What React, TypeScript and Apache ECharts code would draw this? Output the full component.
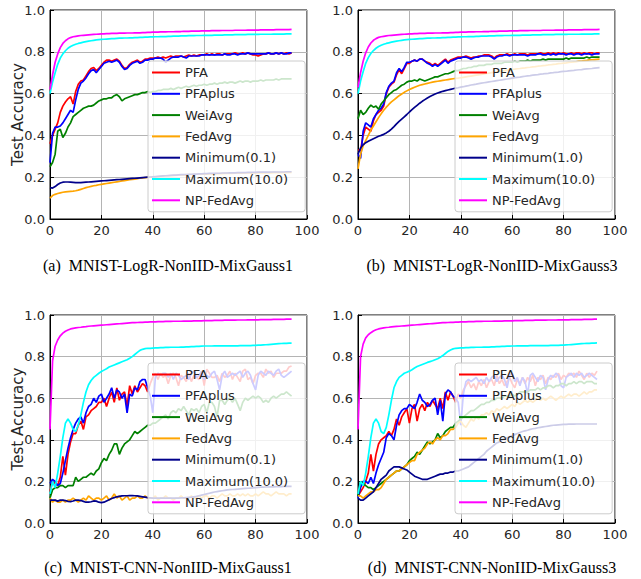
import React, { useEffect, useRef } from "react";
import * as echarts from "echarts";

// ---------- Panel (a): MNIST-LogR-NonIID-MixGauss1 ----------
const A_PFA = [0.36,0.40,0.43,0.46,0.51,0.54,0.56,0.575,0.585,0.55,
0.61,0.645,0.66,0.665,0.685,0.705,0.72,0.725,0.71,0.72,
0.735,0.75,0.76,0.76,0.755,0.76,0.765,0.755,0.735,0.72,
0.725,0.74,0.75,0.755,0.76,0.75,0.755,0.765,0.765,0.77,
0.77,0.77,0.775,0.77,0.775,0.77,0.775,0.78,0.775,0.78,
0.78,0.78,0.775,0.78,0.785,0.78,0.785,0.78,0.785,0.785,
0.785,0.79,0.785,0.79,0.785,0.79,0.79,0.785,0.79,0.79,
0.79,0.79,0.795,0.79,0.79,0.795,0.79,0.795,0.79,0.785,
0.785,0.78,0.785,0.79,0.79,0.795,0.79,0.79,0.795,0.79,
0.795,0.79,0.795,0.79,0.795];
const A_PFAPLUS = [0.27,0.41,0.44,0.44,0.445,0.46,0.48,0.50,0.52,0.51,
0.57,0.62,0.65,0.66,0.675,0.695,0.71,0.715,0.70,0.715,
0.73,0.745,0.75,0.755,0.75,0.755,0.76,0.75,0.73,0.715,
0.72,0.735,0.745,0.75,0.755,0.745,0.75,0.76,0.76,0.765,
0.765,0.77,0.77,0.77,0.765,0.75,0.76,0.77,0.775,0.775,
0.775,0.78,0.775,0.77,0.78,0.78,0.78,0.78,0.78,0.785,
0.785,0.785,0.785,0.785,0.785,0.785,0.785,0.785,0.79,0.785,
0.785,0.79,0.79,0.785,0.79,0.79,0.79,0.795,0.79,0.79,
0.79,0.79,0.79,0.79,0.79,0.795,0.79,0.79,0.795,0.79,
0.795,0.79,0.79,0.795,0.795];
const A_WEIAVG = [0.25,0.27,0.31,0.42,0.43,0.39,0.41,0.44,0.46,0.49,
0.50,0.51,0.52,0.53,0.535,0.54,0.54,0.545,0.555,0.565,
0.57,0.575,0.575,0.58,0.58,0.59,0.595,0.585,0.565,0.575,
0.58,0.585,0.59,0.595,0.595,0.60,0.605,0.605,0.61,0.605,
0.61,0.61,0.615,0.615,0.62,0.62,0.62,0.625,0.62,0.625,
0.63,0.625,0.63,0.635,0.63,0.635,0.64,0.635,0.64,0.64,
0.645,0.64,0.645,0.645,0.65,0.645,0.65,0.65,0.655,0.65,
0.655,0.655,0.65,0.655,0.66,0.655,0.66,0.66,0.655,0.66,
0.66,0.66,0.665,0.66,0.665,0.665,0.665,0.665,0.67,0.665,
0.67,0.67,0.67,0.67,0.67];
const A_FEDAVG = [0.10,0.112,0.118,0.122,0.125,0.128,0.13,0.131,0.132,0.133,
0.135,0.138,0.142,0.146,0.15,0.153,0.156,0.159,0.161,0.164,
0.166,0.168,0.17,0.172,0.174,0.176,0.178,0.18,0.182,0.184,
0.186,0.188,0.19,0.191,0.193,0.195,0.196,0.198,0.199,0.2,
0.201,0.202,0.203,0.204,0.205,0.206,0.207,0.208,0.208,0.209,
0.21,0.21,0.211,0.212,0.212,0.213,0.213,0.214,0.214,0.215,
0.215,0.215,0.216,0.216,0.216,0.217,0.217,0.217,0.218,0.218,
0.218,0.218,0.219,0.219,0.219,0.219,0.22,0.22,0.22,0.22,
0.22,0.22,0.221,0.221,0.221,0.221,0.221,0.222,0.222,0.222,
0.222,0.222,0.222,0.223,0.223];
const A_MIN = [0.15,0.148,0.155,0.165,0.172,0.176,0.177,0.177,0.176,0.175,
0.174,0.174,0.174,0.175,0.176,0.177,0.178,0.179,0.18,0.181,
0.182,0.183,0.184,0.185,0.186,0.187,0.188,0.189,0.19,0.191,
0.192,0.193,0.194,0.195,0.196,0.197,0.198,0.199,0.2,0.201,
0.202,0.203,0.204,0.205,0.206,0.207,0.208,0.209,0.21,0.21,
0.211,0.212,0.212,0.213,0.214,0.214,0.215,0.215,0.216,0.216,
0.217,0.217,0.218,0.218,0.218,0.219,0.219,0.22,0.22,0.22,
0.221,0.221,0.221,0.222,0.222,0.222,0.222,0.223,0.223,0.223,
0.223,0.224,0.224,0.224,0.224,0.224,0.225,0.225,0.225,0.225,
0.225,0.225,0.226,0.226,0.226];
const A_MAX = [0.60,0.655,0.70,0.74,0.77,0.79,0.805,0.817,0.825,0.831,
0.836,0.84,0.843,0.846,0.849,0.851,0.853,0.855,0.857,0.858,
0.859,0.86,0.861,0.862,0.863,0.863,0.864,0.865,0.865,0.866,
0.866,0.867,0.867,0.868,0.868,0.869,0.869,0.87,0.87,0.871,
0.871,0.872,0.872,0.873,0.873,0.873,0.874,0.874,0.875,0.875,
0.875,0.876,0.876,0.876,0.877,0.877,0.877,0.878,0.878,0.878,
0.879,0.879,0.879,0.879,0.88,0.88,0.88,0.88,0.881,0.881,
0.881,0.881,0.882,0.882,0.882,0.882,0.882,0.883,0.883,0.883,
0.883,0.883,0.884,0.884,0.884,0.884,0.884,0.885,0.885,0.885,
0.885,0.885,0.886,0.886,0.886];
const A_NP = [0.62,0.69,0.75,0.79,0.82,0.84,0.853,0.862,0.868,0.872,
0.874,0.876,0.878,0.879,0.88,0.881,0.882,0.883,0.884,0.885,
0.886,0.886,0.887,0.887,0.888,0.888,0.888,0.889,0.889,0.889,
0.89,0.89,0.89,0.891,0.891,0.891,0.892,0.892,0.893,0.893,
0.894,0.894,0.894,0.895,0.895,0.895,0.896,0.896,0.896,0.897,
0.897,0.897,0.898,0.898,0.898,0.899,0.899,0.899,0.899,0.9,
0.9,0.9,0.9,0.901,0.901,0.901,0.901,0.902,0.902,0.902,
0.902,0.902,0.903,0.903,0.903,0.903,0.903,0.904,0.904,0.904,
0.904,0.904,0.905,0.905,0.905,0.905,0.905,0.905,0.906,0.906,
0.906,0.906,0.906,0.906,0.907];

// ---------- Panel (b): MNIST-LogR-NonIID-MixGauss3 ----------
const B_PFA = [0.33,0.33,0.40,0.44,0.43,0.42,0.47,0.50,0.51,0.52,
0.54,0.60,0.63,0.645,0.655,0.69,0.715,0.695,0.72,0.745,
0.745,0.755,0.76,0.755,0.765,0.765,0.755,0.75,0.745,0.735,
0.745,0.735,0.745,0.755,0.765,0.75,0.76,0.765,0.77,0.775,
0.775,0.775,0.78,0.775,0.77,0.775,0.775,0.78,0.78,0.785,
0.785,0.785,0.78,0.77,0.78,0.785,0.785,0.785,0.79,0.785,
0.785,0.79,0.785,0.79,0.79,0.79,0.785,0.79,0.79,0.79,
0.79,0.795,0.79,0.79,0.795,0.79,0.795,0.79,0.795,0.79,
0.795,0.79,0.79,0.795,0.79,0.795,0.795,0.79,0.795,0.79,
0.795,0.795,0.79,0.795,0.795];
const B_PFAPLUS = [0.31,0.29,0.42,0.46,0.45,0.44,0.48,0.50,0.52,0.53,
0.55,0.605,0.635,0.65,0.66,0.70,0.72,0.705,0.725,0.75,
0.75,0.755,0.76,0.755,0.765,0.765,0.755,0.745,0.74,0.73,
0.74,0.73,0.74,0.75,0.76,0.745,0.755,0.76,0.765,0.77,
0.77,0.775,0.775,0.77,0.765,0.77,0.775,0.775,0.78,0.78,
0.78,0.78,0.775,0.765,0.775,0.78,0.78,0.785,0.785,0.78,
0.785,0.785,0.785,0.785,0.785,0.785,0.78,0.785,0.785,0.785,
0.79,0.79,0.785,0.785,0.79,0.785,0.79,0.785,0.79,0.79,
0.79,0.785,0.79,0.79,0.785,0.79,0.79,0.785,0.79,0.79,
0.79,0.785,0.79,0.79,0.79];
const B_WEIAVG = [0.48,0.52,0.50,0.51,0.53,0.545,0.535,0.54,0.525,0.55,
0.565,0.58,0.595,0.605,0.615,0.62,0.63,0.64,0.645,0.655,
0.66,0.66,0.665,0.66,0.67,0.665,0.66,0.665,0.67,0.675,
0.68,0.68,0.685,0.69,0.695,0.695,0.70,0.705,0.71,0.71,
0.715,0.72,0.72,0.725,0.725,0.73,0.73,0.735,0.735,0.735,
0.74,0.74,0.74,0.745,0.745,0.745,0.745,0.75,0.75,0.75,
0.75,0.755,0.75,0.755,0.755,0.755,0.76,0.755,0.76,0.76,
0.76,0.76,0.765,0.76,0.765,0.765,0.765,0.765,0.765,0.765,
0.765,0.77,0.765,0.77,0.77,0.77,0.77,0.77,0.77,0.775,
0.77,0.775,0.775,0.775,0.775];
const B_FEDAVG = [0.24,0.31,0.35,0.375,0.40,0.425,0.445,0.465,0.485,0.503,
0.52,0.535,0.548,0.56,0.57,0.58,0.59,0.598,0.606,0.613,
0.62,0.625,0.63,0.635,0.64,0.643,0.646,0.649,0.652,0.655,
0.657,0.659,0.661,0.663,0.665,0.667,0.669,0.671,0.673,0.674,
0.676,0.678,0.68,0.682,0.684,0.686,0.688,0.69,0.692,0.694,
0.696,0.698,0.7,0.702,0.704,0.706,0.708,0.71,0.712,0.714,
0.716,0.717,0.719,0.72,0.722,0.723,0.725,0.726,0.728,0.729,
0.731,0.732,0.734,0.735,0.737,0.738,0.74,0.741,0.743,0.744,
0.746,0.747,0.749,0.75,0.752,0.753,0.755,0.756,0.758,0.759,
0.761,0.762,0.763,0.764,0.765];
const B_MIN = [0.31,0.34,0.355,0.365,0.372,0.378,0.384,0.39,0.396,0.40,
0.405,0.412,0.42,0.43,0.442,0.455,0.467,0.478,0.489,0.50,
0.512,0.523,0.534,0.544,0.554,0.563,0.571,0.579,0.586,0.592,
0.598,0.603,0.607,0.611,0.614,0.617,0.62,0.623,0.626,0.628,
0.631,0.633,0.636,0.638,0.641,0.643,0.645,0.648,0.65,0.652,
0.654,0.656,0.658,0.66,0.662,0.664,0.666,0.668,0.67,0.672,
0.674,0.676,0.678,0.679,0.681,0.683,0.685,0.686,0.688,0.69,
0.691,0.693,0.694,0.696,0.697,0.699,0.7,0.702,0.703,0.705,
0.706,0.707,0.709,0.71,0.711,0.713,0.714,0.715,0.717,0.718,
0.719,0.72,0.722,0.723,0.724];
const B_MAX = [0.60,0.66,0.705,0.745,0.772,0.792,0.806,0.817,0.825,0.831,
0.836,0.84,0.843,0.846,0.849,0.851,0.853,0.855,0.857,0.858,
0.859,0.86,0.861,0.862,0.863,0.863,0.864,0.865,0.865,0.866,
0.866,0.867,0.867,0.868,0.868,0.869,0.869,0.87,0.87,0.871,
0.871,0.872,0.872,0.873,0.873,0.873,0.874,0.874,0.875,0.875,
0.875,0.876,0.876,0.876,0.877,0.877,0.877,0.878,0.878,0.878,
0.879,0.879,0.879,0.879,0.88,0.88,0.88,0.88,0.881,0.881,
0.881,0.881,0.882,0.882,0.882,0.882,0.882,0.883,0.883,0.883,
0.883,0.883,0.884,0.884,0.884,0.884,0.884,0.885,0.885,0.885,
0.885,0.885,0.886,0.886,0.886];
const B_NP = [0.63,0.70,0.755,0.795,0.823,0.842,0.855,0.863,0.869,0.872,
0.874,0.876,0.878,0.879,0.88,0.881,0.882,0.883,0.884,0.885,
0.886,0.886,0.887,0.887,0.888,0.888,0.888,0.889,0.889,0.889,
0.89,0.89,0.89,0.891,0.891,0.891,0.892,0.892,0.893,0.893,
0.894,0.894,0.894,0.895,0.895,0.895,0.896,0.896,0.896,0.897,
0.897,0.897,0.898,0.898,0.898,0.899,0.899,0.899,0.899,0.9,
0.9,0.9,0.9,0.901,0.901,0.901,0.901,0.902,0.902,0.902,
0.902,0.902,0.903,0.903,0.903,0.903,0.903,0.904,0.904,0.904,
0.904,0.904,0.905,0.905,0.905,0.905,0.905,0.905,0.906,0.906,
0.906,0.906,0.906,0.906,0.907];

// ---------- Panel (c): MNIST-CNN-NonIID-MixGauss1 ----------
const C_PFA = [0.15,0.20,0.19,0.18,0.22,0.32,0.23,0.33,0.39,0.43,
0.43,0.47,0.49,0.45,0.51,0.52,0.54,0.55,0.56,0.58,
0.58,0.60,0.56,0.60,0.63,0.58,0.65,0.59,0.62,0.63,
0.56,0.66,0.62,0.66,0.63,0.65,0.67,0.66,0.63,0.67,
0.70,0.72,0.69,0.72,0.70,0.71,0.67,0.71,0.72,0.70,
0.66,0.71,0.70,0.68,0.72,0.68,0.71,0.70,0.69,0.73,
0.66,0.74,0.72,0.70,0.70,0.71,0.68,0.72,0.70,0.71,
0.73,0.69,0.72,0.70,0.68,0.73,0.74,0.69,0.70,0.67,
0.71,0.72,0.72,0.70,0.74,0.72,0.73,0.70,0.72,0.72,
0.72,0.73,0.73,0.75,0.755];
const C_PFAPLUS = [0.19,0.21,0.20,0.18,0.19,0.24,0.30,0.36,0.41,0.45,
0.48,0.50,0.51,0.48,0.53,0.56,0.57,0.60,0.58,0.61,
0.62,0.58,0.60,0.62,0.65,0.60,0.64,0.63,0.60,0.62,
0.53,0.62,0.61,0.65,0.64,0.68,0.69,0.69,0.65,0.61,
0.53,0.70,0.72,0.71,0.72,0.72,0.70,0.72,0.69,0.72,
0.71,0.69,0.70,0.71,0.69,0.72,0.73,0.70,0.71,0.73,
0.69,0.71,0.70,0.72,0.73,0.69,0.64,0.71,0.73,0.70,
0.71,0.72,0.71,0.72,0.73,0.70,0.72,0.73,0.71,0.67,
0.64,0.71,0.73,0.72,0.71,0.73,0.72,0.71,0.73,0.74,
0.71,0.70,0.71,0.72,0.73];
const C_WEIAVG = [0.12,0.16,0.17,0.17,0.18,0.18,0.17,0.18,0.18,0.18,
0.22,0.20,0.21,0.22,0.22,0.23,0.24,0.23,0.25,0.26,
0.29,0.31,0.30,0.33,0.35,0.38,0.38,0.33,0.36,0.38,
0.39,0.40,0.42,0.44,0.43,0.44,0.45,0.46,0.47,0.47,
0.48,0.48,0.49,0.50,0.51,0.52,0.50,0.53,0.54,0.53,
0.55,0.54,0.56,0.54,0.52,0.55,0.54,0.55,0.53,0.56,
0.57,0.53,0.58,0.58,0.56,0.51,0.59,0.59,0.57,0.59,
0.60,0.58,0.60,0.57,0.54,0.58,0.60,0.59,0.60,0.61,
0.60,0.61,0.60,0.58,0.59,0.58,0.60,0.61,0.60,0.61,
0.62,0.62,0.63,0.62,0.61];
const C_FEDAVG = [0.12,0.10,0.11,0.10,0.10,0.11,0.10,0.11,0.11,0.12,
0.11,0.10,0.11,0.12,0.11,0.13,0.12,0.11,0.12,0.12,
0.11,0.12,0.13,0.11,0.12,0.14,0.12,0.13,0.11,0.12,
0.13,0.11,0.12,0.12,0.13,0.12,0.12,0.13,0.12,0.12,
0.12,0.13,0.11,0.12,0.12,0.13,0.12,0.12,0.11,0.12,
0.12,0.13,0.12,0.12,0.12,0.13,0.12,0.12,0.13,0.12,
0.13,0.13,0.12,0.13,0.13,0.12,0.13,0.14,0.13,0.13,
0.14,0.13,0.13,0.14,0.13,0.14,0.13,0.14,0.13,0.13,
0.14,0.13,0.14,0.15,0.14,0.14,0.13,0.14,0.15,0.14,
0.14,0.14,0.13,0.14,0.14];
const C_MIN = [0.11,0.11,0.11,0.105,0.11,0.11,0.108,0.104,0.103,0.106,
0.11,0.11,0.108,0.104,0.10,0.10,0.102,0.106,0.105,0.10,
0.098,0.10,0.106,0.112,0.118,0.122,0.126,0.128,0.13,0.131,
0.131,0.132,0.132,0.131,0.13,0.128,0.126,0.124,0.122,0.121,
0.12,0.12,0.12,0.12,0.12,0.12,0.12,0.12,0.12,0.12,
0.12,0.121,0.121,0.122,0.123,0.124,0.126,0.128,0.131,0.134,
0.137,0.14,0.143,0.146,0.149,0.151,0.153,0.155,0.157,0.159,
0.16,0.161,0.162,0.163,0.164,0.165,0.166,0.167,0.168,0.169,
0.17,0.171,0.172,0.172,0.173,0.173,0.174,0.174,0.175,0.175,
0.175,0.176,0.176,0.176,0.176];
const C_MAX = [0.14,0.20,0.17,0.24,0.32,0.41,0.48,0.50,0.48,0.45,
0.44,0.47,0.52,0.58,0.63,0.665,0.685,0.70,0.71,0.72,
0.728,0.735,0.742,0.75,0.755,0.76,0.765,0.77,0.775,0.78,
0.785,0.792,0.80,0.81,0.82,0.83,0.835,0.838,0.84,0.84,
0.841,0.842,0.842,0.843,0.843,0.844,0.844,0.845,0.845,0.845,
0.845,0.846,0.846,0.847,0.847,0.848,0.848,0.849,0.849,0.85,
0.851,0.851,0.851,0.851,0.852,0.852,0.852,0.852,0.852,0.852,
0.852,0.852,0.852,0.852,0.853,0.853,0.853,0.853,0.853,0.854,
0.854,0.855,0.855,0.856,0.857,0.858,0.859,0.86,0.861,0.862,
0.863,0.864,0.864,0.865,0.865];
const C_NP = [0.45,0.78,0.85,0.88,0.90,0.913,0.922,0.928,0.933,0.936,
0.938,0.94,0.941,0.943,0.944,0.946,0.947,0.948,0.949,0.95,
0.951,0.952,0.953,0.954,0.955,0.956,0.957,0.958,0.959,0.96,
0.961,0.962,0.963,0.963,0.964,0.965,0.965,0.966,0.966,0.967,
0.967,0.967,0.968,0.968,0.968,0.969,0.969,0.969,0.97,0.97,
0.97,0.97,0.971,0.971,0.971,0.971,0.972,0.972,0.972,0.972,
0.973,0.973,0.973,0.973,0.974,0.974,0.974,0.974,0.975,0.975,
0.975,0.975,0.975,0.976,0.976,0.976,0.976,0.977,0.977,0.977,
0.977,0.977,0.978,0.978,0.978,0.978,0.978,0.979,0.979,0.979,
0.979,0.979,0.98,0.98,0.98];

// ---------- Panel (d): MNIST-CNN-NonIID-MixGauss3 ----------
const D_PFA = [0.13,0.15,0.17,0.20,0.24,0.33,0.25,0.33,0.38,0.40,
0.41,0.42,0.44,0.42,0.45,0.50,0.47,0.51,0.53,0.55,
0.48,0.55,0.57,0.49,0.55,0.57,0.54,0.58,0.56,0.59,
0.57,0.55,0.60,0.55,0.63,0.59,0.63,0.61,0.58,0.62,
0.60,0.64,0.66,0.68,0.65,0.67,0.64,0.68,0.66,0.69,
0.65,0.68,0.69,0.66,0.71,0.67,0.69,0.66,0.68,0.70,
0.67,0.65,0.69,0.67,0.70,0.67,0.70,0.68,0.71,0.66,
0.70,0.69,0.71,0.67,0.70,0.69,0.71,0.70,0.72,0.69,
0.71,0.70,0.72,0.71,0.72,0.70,0.73,0.71,0.69,0.72,
0.70,0.72,0.71,0.73];
const D_PFAPLUS = [0.12,0.17,0.20,0.20,0.19,0.22,0.19,0.24,0.28,0.31,
0.34,0.41,0.43,0.42,0.40,0.47,0.52,0.54,0.55,0.55,
0.57,0.56,0.55,0.58,0.62,0.59,0.58,0.56,0.57,0.59,
0.60,0.52,0.59,0.49,0.62,0.64,0.63,0.61,0.60,0.58,
0.47,0.62,0.68,0.69,0.68,0.69,0.70,0.68,0.69,0.67,
0.70,0.68,0.70,0.71,0.68,0.70,0.71,0.69,0.65,0.71,
0.72,0.68,0.70,0.66,0.70,0.68,0.62,0.71,0.72,0.70,
0.68,0.71,0.70,0.64,0.69,0.71,0.70,0.72,0.71,0.66,
0.65,0.70,0.71,0.72,0.70,0.72,0.71,0.72,0.70,0.71,
0.72,0.71,0.70,0.69];
const D_WEIAVG = [0.13,0.20,0.19,0.18,0.17,0.17,0.16,0.17,0.18,0.19,
0.20,0.21,0.22,0.23,0.24,0.25,0.25,0.26,0.27,0.28,
0.30,0.31,0.32,0.34,0.33,0.35,0.37,0.39,0.38,0.39,
0.40,0.43,0.41,0.42,0.44,0.45,0.46,0.46,0.48,0.49,
0.50,0.51,0.52,0.53,0.54,0.54,0.55,0.56,0.57,0.57,
0.58,0.58,0.59,0.59,0.60,0.60,0.60,0.61,0.61,0.61,
0.62,0.61,0.62,0.63,0.63,0.63,0.63,0.64,0.64,0.64,
0.65,0.64,0.65,0.65,0.66,0.66,0.65,0.66,0.66,0.67,
0.67,0.66,0.67,0.67,0.68,0.67,0.68,0.68,0.67,0.68,
0.68,0.68,0.67,0.67];
const D_FEDAVG = [0.13,0.13,0.12,0.13,0.14,0.15,0.15,0.16,0.16,0.17,
0.19,0.21,0.22,0.23,0.24,0.25,0.25,0.26,0.27,0.28,
0.29,0.30,0.30,0.33,0.34,0.35,0.36,0.38,0.39,0.38,
0.40,0.41,0.40,0.42,0.42,0.43,0.45,0.45,0.46,0.48,
0.49,0.47,0.46,0.48,0.50,0.49,0.51,0.50,0.52,0.52,
0.53,0.52,0.54,0.53,0.55,0.54,0.55,0.56,0.55,0.56,
0.57,0.56,0.58,0.57,0.58,0.59,0.58,0.59,0.58,0.59,
0.60,0.59,0.60,0.59,0.60,0.61,0.60,0.59,0.60,0.61,
0.60,0.61,0.62,0.61,0.62,0.62,0.61,0.62,0.63,0.62,
0.63,0.63,0.64,0.64];
const D_MIN = [0.12,0.11,0.11,0.12,0.13,0.14,0.15,0.17,0.19,0.21,
0.22,0.23,0.25,0.26,0.27,0.27,0.27,0.265,0.26,0.255,
0.245,0.235,0.225,0.22,0.215,0.21,0.21,0.21,0.215,0.22,
0.225,0.23,0.235,0.235,0.24,0.24,0.245,0.245,0.25,0.25,
0.255,0.26,0.265,0.27,0.28,0.29,0.30,0.31,0.32,0.33,
0.345,0.355,0.365,0.375,0.385,0.39,0.40,0.405,0.41,0.415,
0.42,0.425,0.43,0.435,0.44,0.443,0.446,0.45,0.453,0.455,
0.458,0.46,0.462,0.464,0.466,0.468,0.47,0.471,0.472,0.473,
0.474,0.474,0.475,0.475,0.475,0.476,0.476,0.476,0.476,0.476,
0.476,0.476,0.476,0.476];
const D_MAX = [0.14,0.20,0.18,0.24,0.32,0.41,0.48,0.50,0.48,0.44,
0.43,0.46,0.52,0.59,0.65,0.68,0.70,0.71,0.72,0.725,
0.73,0.737,0.745,0.752,0.757,0.762,0.767,0.772,0.776,0.78,
0.785,0.79,0.797,0.805,0.815,0.825,0.832,0.837,0.84,0.841,
0.842,0.842,0.843,0.843,0.844,0.844,0.845,0.845,0.845,0.846,
0.846,0.846,0.847,0.847,0.848,0.848,0.849,0.849,0.85,0.85,
0.851,0.851,0.852,0.852,0.852,0.852,0.852,0.853,0.853,0.853,
0.853,0.853,0.853,0.853,0.853,0.854,0.854,0.854,0.854,0.855,
0.855,0.856,0.857,0.858,0.859,0.86,0.861,0.862,0.863,0.864,
0.864,0.865,0.865,0.866];
const D_NP = [0.45,0.80,0.86,0.89,0.905,0.915,0.923,0.929,0.933,0.936,
0.938,0.94,0.941,0.943,0.944,0.945,0.946,0.947,0.948,0.949,
0.95,0.951,0.952,0.953,0.954,0.955,0.956,0.957,0.958,0.959,
0.96,0.961,0.962,0.963,0.963,0.964,0.965,0.965,0.966,0.966,
0.967,0.967,0.967,0.968,0.968,0.968,0.969,0.969,0.969,0.97,
0.97,0.97,0.97,0.971,0.971,0.971,0.971,0.972,0.972,0.972,
0.972,0.973,0.973,0.973,0.973,0.974,0.974,0.974,0.974,0.975,
0.975,0.975,0.975,0.975,0.976,0.976,0.976,0.976,0.977,0.977,
0.977,0.977,0.977,0.978,0.978,0.978,0.978,0.978,0.979,0.979,
0.979,0.979,0.98,0.98];

// ---------- labels ----------
const X_TICKS = [0, 20, 40, 60, 80, 100];
const Y_TICKS = [0.0, 0.2, 0.4, 0.6, 0.8, 1.0];
const NAMES_1 = ["PFA", "PFAplus", "WeiAvg", "FedAvg", "Minimum(0.1)", "Maximum(10.0)", "NP-FedAvg"];
const NAMES_3 = ["PFA", "PFAplus", "WeiAvg", "FedAvg", "Minimum(1.0)", "Maximum(10.0)", "NP-FedAvg"];
const CAPTIONS = [
  "(a)  MNIST-LogR-NonIID-MixGauss1",
  "(b)  MNIST-LogR-NonIID-MixGauss3",
  "(c)  MNIST-CNN-NonIID-MixGauss1",
  "(d)  MNIST-CNN-NonIID-MixGauss3",
];
const Y_NAME = "Test Accuracy";

const COLORS = ["#ff0000", "#0000ff", "#008000", "#ffa500", "#00008b", "#00ffff", "#ff00ff"];

const PANEL_DATA = [
  { names: NAMES_1, series: [A_PFA, A_PFAPLUS, A_WEIAVG, A_FEDAVG, A_MIN, A_MAX, A_NP] },
  { names: NAMES_3, series: [B_PFA, B_PFAPLUS, B_WEIAVG, B_FEDAVG, B_MIN, B_MAX, B_NP] },
  { names: NAMES_1, series: [C_PFA, C_PFAPLUS, C_WEIAVG, C_FEDAVG, C_MIN, C_MAX, C_NP] },
  { names: NAMES_3, series: [D_PFA, D_PFAPLUS, D_WEIAVG, D_FEDAVG, D_MIN, D_MAX, D_NP] },
];

// layout (page pixels)
const LAYOUT = [
  { grid: { left: 50, top: 10, width: 257, height: 209 }, legend: { left: 148, top: 61 }, cap: { x: 168, y: 265 }, yName: true },
  { grid: { left: 358, top: 10, width: 257, height: 209 }, legend: { left: 455, top: 61 }, cap: { x: 492, y: 265 }, yName: false },
  { grid: { left: 50, top: 315, width: 257, height: 208 }, legend: { left: 148, top: 363 }, cap: { x: 168, y: 567 }, yName: true },
  { grid: { left: 358, top: 315, width: 257, height: 208 }, legend: { left: 455, top: 363 }, cap: { x: 492, y: 567 }, yName: false },
];

const FONT = "DejaVu Sans";

function buildOption() {
  const grids: any[] = [];
  const xAxes: any[] = [];
  const yAxes: any[] = [];
  const legends: any[] = [];
  const series: any[] = [];
  const graphics: any[] = [];

  LAYOUT.forEach((L, i) => {
    const P = PANEL_DATA[i];
    grids.push({
      ...L.grid,
      show: true,
      borderColor: "#000",
      borderWidth: 1,
      backgroundColor: "transparent",
      containLabel: false,
    });
    xAxes.push({
      type: "value",
      gridIndex: i,
      min: X_TICKS[0],
      max: X_TICKS[X_TICKS.length - 1],
      interval: X_TICKS[1] - X_TICKS[0],
      axisLine: { show: true, onZero: false, lineStyle: { color: "#000", width: 1 } },
      axisTick: { show: true, inside: true, length: 4, lineStyle: { color: "#000" } },
      axisLabel: { fontSize: 13, color: "#262626", fontFamily: FONT, margin: 5 },
      splitLine: { show: true, lineStyle: { color: "#b4b4b4", width: 1 } },
    });
    yAxes.push({
      type: "value",
      gridIndex: i,
      min: Y_TICKS[0],
      max: Y_TICKS[Y_TICKS.length - 1],
      interval: Y_TICKS[1] - Y_TICKS[0],
      name: L.yName ? Y_NAME : "",
      nameLocation: "middle",
      nameGap: 25,
      nameMoveOverlap: false,
      nameTextStyle: { fontSize: 15, fontFamily: FONT, color: "#262626" },
      axisLine: { show: true, onZero: false, lineStyle: { color: "#000", width: 1 } },
      axisTick: { show: true, inside: true, length: 4, lineStyle: { color: "#000" } },
      axisLabel: {
        fontSize: 13,
        color: "#262626",
        fontFamily: FONT,
        margin: 5,
        formatter: (v: number) => v.toFixed(1),
      },
      splitLine: { show: true, lineStyle: { color: "#b4b4b4", width: 1 } },
    });
    legends.push({
      orient: "vertical",
      left: L.legend.left,
      top: L.legend.top,
      padding: [4, 17, 4, 4],
      itemGap: 6.3,
      itemWidth: 28,
      itemHeight: 2,
      icon: "rect",
      selectedMode: false,
      backgroundColor: "rgba(255,255,255,0.8)",
      borderColor: "#cccccc",
      borderWidth: 1,
      borderRadius: 3,
      textStyle: { fontSize: 13, fontFamily: FONT, color: "#262626", lineHeight: 15 },
      data: P.names,
    });
    P.series.forEach((vals, k) => {
      series.push({
        type: "line",
        name: P.names[k],
        xAxisIndex: i,
        yAxisIndex: i,
        data: vals.map((v, idx) => [idx, v]),
        symbol: "none",
        showSymbol: false,
        color: COLORS[k],
        itemStyle: { color: COLORS[k] },
        lineStyle: { color: COLORS[k], width: 1.7 },
        emphasis: { disabled: true },
        z: 2,
      });
    });
    graphics.push({
      type: "text",
      x: L.cap.x,
      y: L.cap.y,
      style: {
        text: CAPTIONS[i],
        fontSize: 16,
        fontFamily: "Liberation Serif",
        fill: "#000",
        align: "center",
        verticalAlign: "middle",
      },
    });
  });

  return {
    animation: false,
    backgroundColor: "#fff",
    grid: grids,
    xAxis: xAxes,
    yAxis: yAxes,
    legend: legends,
    series,
    graphic: graphics,
  };
}

export default function App() {
  const ref = useRef<HTMLDivElement>(null);
  useEffect(() => {
    if (!ref.current) return;
    const chart = echarts.init(ref.current, null, { renderer: "svg" });
    chart.setOption(buildOption() as any);
    return () => chart.dispose();
  }, []);
  return (
    <div
      ref={ref}
      style={{ position: "absolute", left: 0, top: 0, width: 641, height: 579 }}
    />
  );
}
